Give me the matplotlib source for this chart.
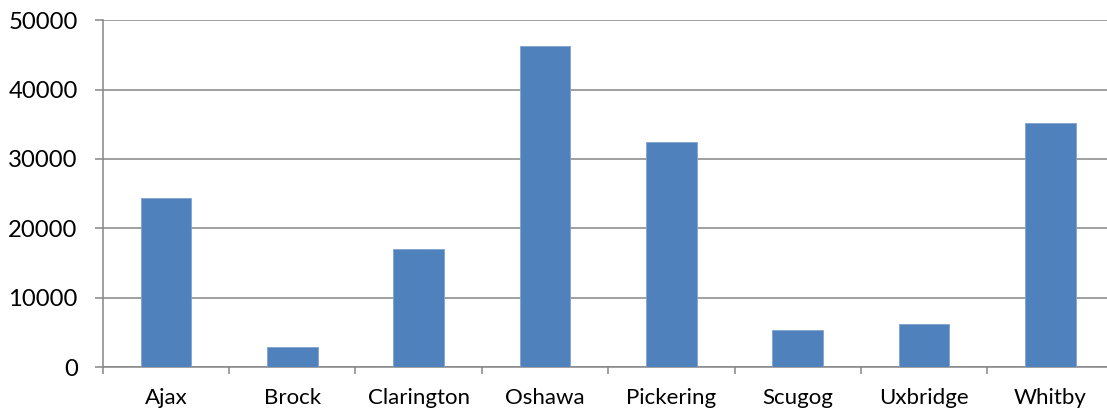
import matplotlib
matplotlib.use("Agg")
import matplotlib.pyplot as plt
import numpy as np

categories = ["Ajax", "Brock", "Clarington", "Oshawa", "Pickering", "Scugog", "Uxbridge", "Whitby"]
values = [24330, 2930, 17020, 46250, 32450, 5380, 6150, 35190]
yticks = [0, 10000, 20000, 30000, 40000, 50000]

plt.rcParams['font.family'] = ['Lato', 'DejaVu Sans']

fig = plt.figure(figsize=(11.07, 4.11), dpi=100)
ax = fig.add_axes([102.7/1107, 44/411, 1011/1107, 346.7/411])

x = np.arange(len(categories))
ax.bar(x, values, width=0.4, color="#4F81BD", edgecolor="#7FA3D0", linewidth=0.6, zorder=3)

ax.set_xlim(-0.5, len(categories) - 0.5)
ax.set_ylim(0, 50000)
ax.set_yticks(yticks)
ax.set_yticklabels([str(v) for v in yticks])
ax.set_xticks(x)
ax.set_xticklabels(categories)
ax.set_xticks(np.arange(len(categories) + 1) - 0.5, minor=True)

grid_c = "#868686"
ax.yaxis.grid(True, color=grid_c, linewidth=1.1, zorder=0)
for s in ["top", "right"]:
    ax.spines[s].set_visible(False)
ax.spines["left"].set_color(grid_c)
ax.spines["bottom"].set_color(grid_c)
ax.spines["left"].set_linewidth(1.1)
ax.spines["bottom"].set_linewidth(1.1)

ax.tick_params(axis="y", length=6, width=1.1, color=grid_c, pad=12, labelsize=17.2, labelcolor="black")
ax.tick_params(axis="x", which="major", length=0, pad=15, labelsize=16, labelcolor="black")
ax.tick_params(axis="x", which="minor", length=5, width=1.1, color=grid_c)

fig.savefig("out.png", dpi=100)
